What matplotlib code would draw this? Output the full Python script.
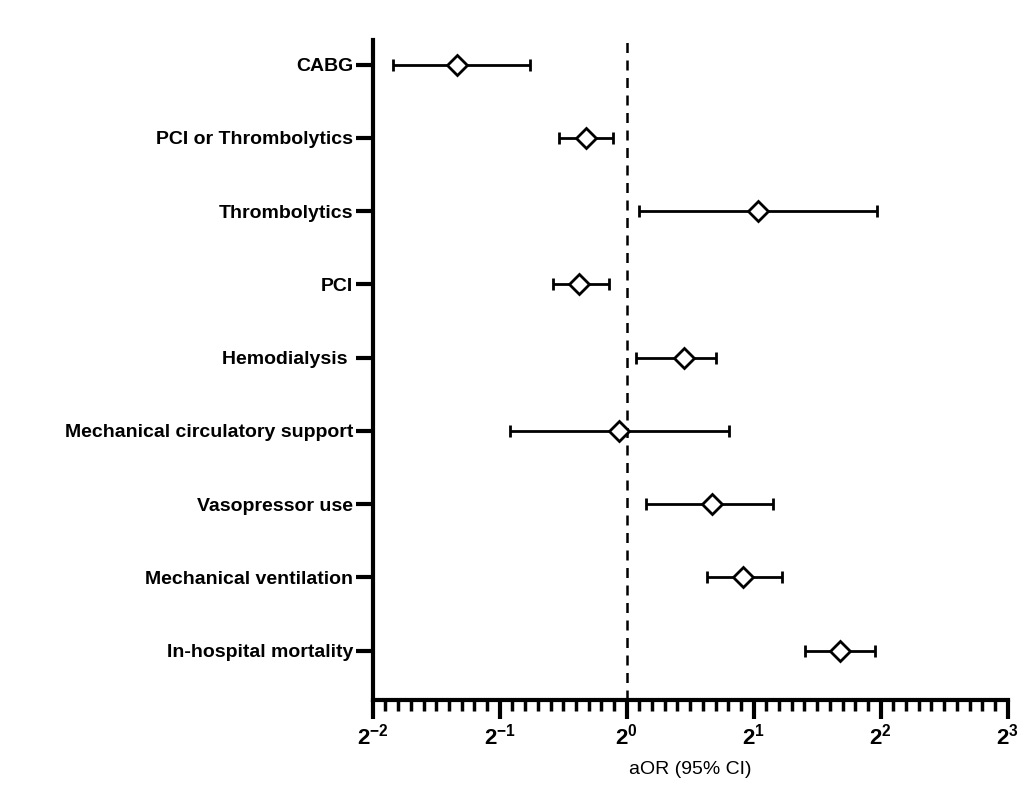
import matplotlib.pyplot as plt
import matplotlib.ticker as mticker
import numpy as np

#---Data--------------------------------------------------------------
labels = ['CABG', 'PCI or Thrombolytics', 'Thrombolytics', 'PCI', 'Hemodialysis ',
          'Mechanical circulatory support', 'Vasopressor use', 'Mechanical ventilation',
          'In-hospital mortality']
aor = [0.397, 0.80, 2.05, 0.77, 1.37, 0.957, 1.59, 1.89, 3.20]
lo = [0.279, 0.69, 1.07, 0.67, 1.05, 0.53, 1.11, 1.55, 2.64]
hi = [0.59, 0.93, 3.93, 0.91, 1.63, 1.75, 2.22, 2.33, 3.87]
xtick_exp = [-2, -1, 0, 1, 2, 3]

#---Plot--------------------------------------------------------------
plt.rcParams['font.family'] = ['Liberation Sans', 'DejaVu Sans']
plt.rcParams['mathtext.fontset'] = 'custom'
plt.rcParams['mathtext.bf'] = 'Liberation Sans:bold'
plt.rcParams['mathtext.rm'] = 'Liberation Sans'
plt.rcParams['axes.unicode_minus'] = False
fg = plt.figure(figsize=(10.24, 8.08), dpi=100)
ax = fg.add_axes([0.364, 0.134, 0.62, 0.816])

n = len(labels)
ypos = np.arange(n)[::-1]
aor = np.array(aor); lo = np.array(lo); hi = np.array(hi)
ax.errorbar(aor, ypos, xerr=[aor - lo, hi - aor], fmt='D', color='black',
            mfc='white', mec='black', ms=10, mew=2, elinewidth=2, capsize=4, capthick=2)
ax.axvline(1, color='black', ls='--', lw=1.8, dashes=(4, 3), zorder=0)

ax.set_xscale('log', base=2)
ax.set_xlim(0.25, 8)
ax.set_ylim(-0.67, n - 0.67)
ax.set_xticks([2.0**e for e in xtick_exp])
ax.set_xticklabels([r'$\mathbf{2^{%d}}$' % e for e in xtick_exp], fontsize=16)
minor = [2.0**(e + k / 10) for e in range(-2, 3) for k in range(1, 10)]
ax.set_xticks(minor, minor=True)
ax.xaxis.set_minor_formatter(mticker.NullFormatter())
ax.set_yticks(ypos)
ax.set_yticklabels(labels, fontsize=14, fontweight='bold')

for s in ['top', 'right']:
    ax.spines[s].set_visible(False)
for s in ['left', 'bottom']:
    ax.spines[s].set_linewidth(3)
ax.tick_params(axis='x', which='major', length=14, width=3)
ax.tick_params(axis='x', which='minor', length=8, width=2.5)
ax.tick_params(axis='y', length=12, width=3, pad=2)

ax.set_xlabel('aOR (95% CI)', fontsize=14, labelpad=8)

plt.savefig('out.png', dpi=100)
